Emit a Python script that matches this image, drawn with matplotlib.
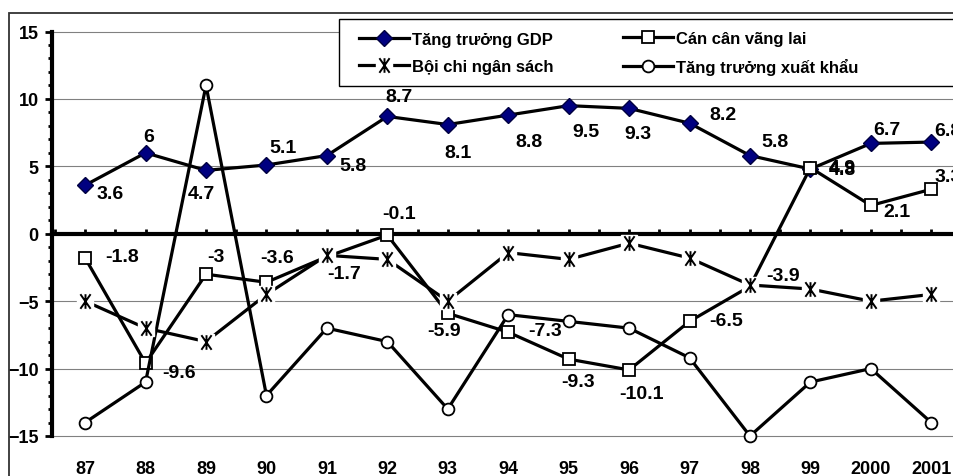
import numpy as np
import matplotlib
matplotlib.use('Agg')
import matplotlib.pyplot as plt
from matplotlib.path import Path
from matplotlib.patches import Rectangle
from matplotlib.legend_handler import HandlerTuple

years = ['87', '88', '89', '90', '91', '92', '93', '94', '95', '96', '97', '98', '99', '2000', '2001']
gdp = [3.6, 6, 4.7, 5.1, 5.8, 8.7, 8.1, 8.8, 9.5, 9.3, 8.2, 5.8, 4.8, 6.7, 6.8]
cur_acc = [-1.8, -9.6, -3, -3.6, -1.7, -0.1, -5.9, -7.3, -9.3, -10.1, -6.5, -3.9, 4.9, 2.1, 3.3]
budget = [-5, -7, -8, -4.5, -1.6, -1.9, -5, -1.4, -1.9, -0.7, -1.8, -3.8, -4.1, -5, -4.5]
export = [-14, -11, 11, -12, -7, -8, -13, -6, -6.5, -7, -9.2, -15, -11, -10, -14]

# label offsets in pixels (dx, dy downwards)
gdp_off = [(25, 8), (3, -16), (-5, 23), (17, -17), (26, 10), (12, -20), (10, 28), (21, 26),
           (17, 26), (9, 25), (33, -9), (25, -14), (32, 0), (16, -14), (17, -12)]
ca_off = [(37, -2), (33, 9), (10, -18), (11, -25), (17, 17), (12, -22), (-4, 17), (37, -2),
          (9, 22), (12, 24), (37, -1), (33, -11), (32, 0), (26, 6), (17, -13)]

W, H = 954, 477
fig = plt.figure(figsize=(W / 100, H / 100), dpi=100)
ax = fig.add_axes([52.5 / W, 40 / H, 909 / W, 404.5 / H])
ax.set_facecolor('none')

x = np.arange(len(years))
lw = 2.3

star = Path([(-0.7, -1), (0.7, 1), (-0.7, 1), (0.7, -1), (0, -1), (0, 1)],
            [Path.MOVETO, Path.LINETO, Path.MOVETO, Path.LINETO, Path.MOVETO, Path.LINETO])

l_gdp, = ax.plot(x, gdp, color='black', lw=lw, marker='D', ms=8, mfc='#000080',
                 mec='#000040', mew=1, zorder=3, clip_on=False)
l_ca, = ax.plot(x, cur_acc, color='black', lw=lw, marker='s', ms=8.5, mfc='white',
                mec='black', mew=1.3, zorder=4, clip_on=False)
l_ex, = ax.plot(x, export, color='black', lw=lw, marker='o', ms=8.5, mfc='white',
                mec='black', mew=1.3, zorder=5, clip_on=False)
l_bu, = ax.plot(x, budget, color='black', lw=lw, zorder=6)
l_bu_bg, = ax.plot(x, budget, ls='none', marker='s', ms=11, mfc='white', mec='white', zorder=6.1)
l_bu_m, = ax.plot(x, budget, ls='none', marker=star, ms=10.5, mec='black', mew=1.4, zorder=6.2)

lab_font = dict(family='Liberation Sans', weight='bold', size=14)
for i, v in enumerate(gdp):
    dx, dy = gdp_off[i]
    ax.annotate(f'{v:g}', (x[i], v), xytext=(dx, -dy), textcoords='offset pixels',
                ha='center', va='center', zorder=8, annotation_clip=False, **lab_font)
for i, v in enumerate(cur_acc):
    dx, dy = ca_off[i]
    ax.annotate(f'{v:g}', (x[i], v), xytext=(dx, -dy), textcoords='offset pixels',
                ha='center', va='center', zorder=8, annotation_clip=False, **lab_font)

ax.set_xlim(-0.54, 14.5)
ax.set_ylim(-15, 15)
ax.set_yticks(np.arange(-15, 16, 5))
ax.set_yticks(np.arange(-15, 16, 1), minor=True)
ax.grid(axis='y', which='major', color='#808080', lw=0.8, zorder=0)
ax.set_axisbelow(True)
for g in ax.get_ygridlines():
    g.set_clip_on(False)

for s in ['top', 'right']:
    ax.spines[s].set_visible(False)
ax.spines['left'].set_linewidth(3)
ax.spines['bottom'].set_position(('data', 0))
ax.spines['bottom'].set_linewidth(3)
ax.spines['bottom'].set_zorder(2.5)
ax.set_xticks(np.arange(-0.5, 14.6, 0.5))
ax.tick_params(axis='x', which='major', direction='in', length=3.5, width=2, labelbottom=False)
ax.tick_params(axis='y', which='major', direction='out', length=5, width=2, pad=5)
ax.tick_params(axis='y', which='minor', direction='out', length=3, width=2)
for t in ax.get_yticklabels():
    t.set_fontfamily('Liberation Sans')
    t.set_fontweight('bold')
    t.set_fontsize(13)

sec = ax.secondary_xaxis('bottom')
sec.set_xticks(x, labels=years)
sec.spines['bottom'].set_visible(False)
sec.tick_params(length=0, pad=17.5)
for t in sec.get_xticklabels():
    t.set_fontfamily('Liberation Sans')
    t.set_fontweight('bold')
    t.set_fontsize(13)

# outer chart frame
fig.patches.append(Rectangle((9 / W, -0.1), 1.2, 1.1 - 14 / H, transform=fig.transFigure,
                             fill=False, ec='#333333', lw=1.3, zorder=-1))
# legend box
fig.patches.append(Rectangle((339 / W, 1 - 87 / H), 1.0, 67 / H, transform=fig.transFigure,
                             fc='white', ec='black', lw=1, zorder=4))

leg_font = dict(family='Liberation Sans', weight='bold', size=12)
common = dict(loc='center left', frameon=False, handlelength=3.0, handletextpad=0.2,
              labelspacing=0.7, borderpad=0, borderaxespad=0, prop=leg_font,
              bbox_transform=fig.transFigure,
              handler_map={tuple: HandlerTuple(ndivide=1, pad=0)})
leg1 = fig.legend([l_gdp, (l_bu, l_bu_bg, l_bu_m)], ['Tăng trưởng GDP', 'Bội chi ngân sách'],
                  bbox_to_anchor=(359 / W, 1 - 54 / H), **common)
leg2 = fig.legend([l_ca, l_ex], ['Cán cân vãng lai', 'Tăng trưởng xuất khẩu'],
                  bbox_to_anchor=(623 / W, 1 - 54 / H), **common)
leg1.set_zorder(6)
leg2.set_zorder(6)

fig.savefig('out.png', dpi=100)
